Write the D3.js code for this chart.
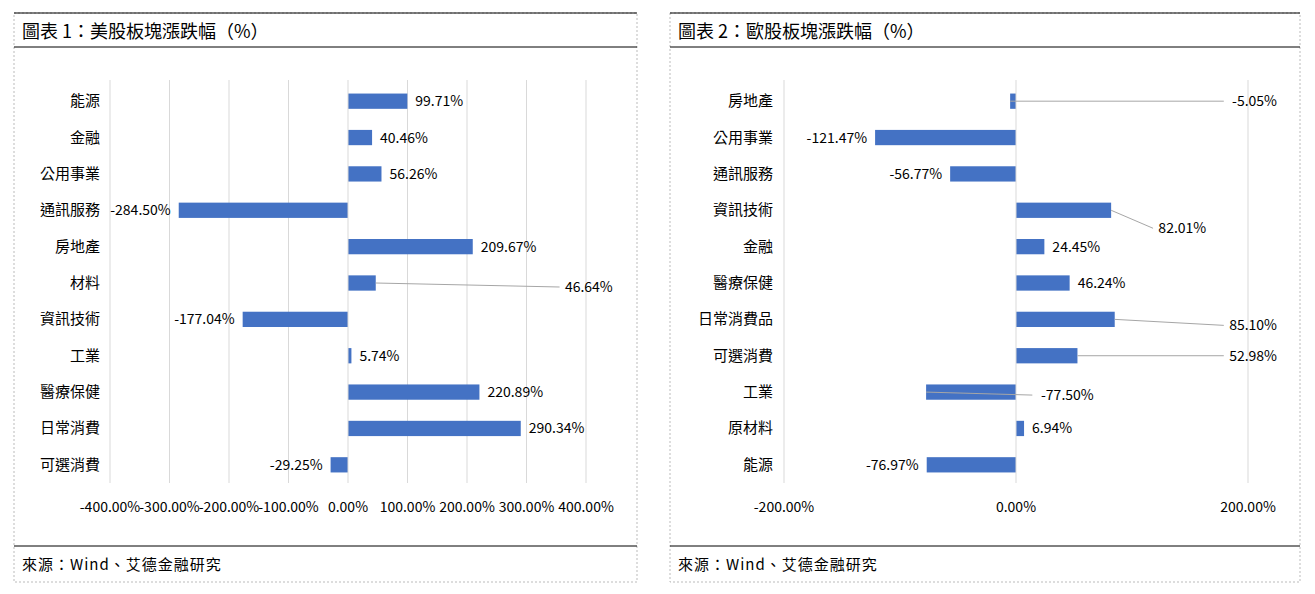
<!DOCTYPE html><html><head><meta charset="utf-8">
<script src="https://d3js.org/d3.v7.min.js"></script>
<style>body{margin:0;background:#fff}text{font-family:"Noto Sans CJK TC","DejaVu Sans Mono",sans-serif}</style></head><body>
<svg id="c" width="1315" height="594"></svg>
<script>
const usCats=["能源","金融","公用事業","通訊服務","房地產","材料","資訊技術","工業","醫療保健","日常消費","可選消費"];
const usVals=[99.71,40.46,56.26,-284.50,209.67,46.64,-177.04,5.74,220.89,290.34,-29.25];
const usTicks=[-400,-300,-200,-100,0,100,200,300,400];
// leader labels: [category, label anchor value (end), y offset px]
const usLeaders=[["材料",445,4]];
const euCats=["房地產","公用事業","通訊服務","資訊技術","金融","醫療保健","日常消費品","可選消費","工業","原材料","能源"];
const euVals=[-5.05,-121.47,-56.77,82.01,24.45,46.24,85.10,52.98,-77.50,6.94,-76.97];
const euTicks=[-200,0,200];
const euLeaders=[["房地產",225,0],["資訊技術",164,18],["日常消費品",225,6],["可選消費",225,0],["工業",67,3]];
const svg=d3.select("#c");
function panel(x0,x1,title,cats,vals,ticks,dom,leaders,grid){
  const g=svg.append("g");
  g.append("rect").attr("x",x0).attr("y",13).attr("width",x1-x0).attr("height",569).attr("fill","none").attr("stroke","#bbb").attr("stroke-dasharray","2,2");
  [13,47,546].forEach(y=>g.append("line").attr("x1",x0).attr("x2",x1).attr("y1",y).attr("y2",y).attr("stroke","#000").attr("stroke-width",1));
  g.append("text").attr("x",x0+8).attr("y",38).attr("font-size",18).text(title);
  g.append("text").attr("x",x0+8).attr("y",570).attr("font-size",15).attr("letter-spacing",1).text("來源：Wind、艾德金融研究");
  const x=d3.scaleLinear().domain(dom[0]).range(dom[1]);
  const y=d3.scaleBand().domain(cats).range([83,483]).paddingInner(0.58).paddingOuter(0.29);
  if(grid) ticks.forEach(t=>{ if(t!==0) g.append("line").attr("x1",x(t)).attr("x2",x(t)).attr("y1",80).attr("y2",483).attr("stroke","#d9d9d9");});
  g.selectAll(".b").data(vals).join("rect").attr("x",d=>Math.min(x(0),x(d))).attr("width",d=>Math.abs(x(d)-x(0)))
   .attr("y",(d,i)=>y(cats[i])).attr("height",y.bandwidth()).attr("fill","#4472c4");
  g.append("line").attr("x1",x(0)).attr("x2",x(0)).attr("y1",80).attr("y2",483).attr("stroke","#d9d9d9");
  cats.forEach(c=>g.append("text").attr("x",x.range()[0]-x0>0?0:0).attr("x",dom[2]).attr("y",y(c)+y.bandwidth()/2+5).attr("text-anchor","end").attr("font-size",15).text(c));
  const lm=new Map(leaders.map(l=>[l[0],l]));
  vals.forEach((v,i)=>{const c=cats[i];const yc=y(c)+y.bandwidth()/2;const lab=v.toFixed(2)+"%";
    if(lm.has(c)){const l=lm.get(c);const lx=x(l[1]);const tw=lab.length*8.2;
      g.append("path").attr("d",`M${x(v)},${yc}L${lx-tw-4},${yc+l[2]}`).attr("stroke","#a6a6a6").attr("fill","none");
      g.append("text").attr("x",lx).attr("y",yc+l[2]+5).attr("text-anchor","end").attr("font-size",14).text(lab);
    } else g.append("text").attr("x",x(v)+(v>=0?8:-8)).attr("y",yc+5).attr("text-anchor",v>=0?"start":"end").attr("font-size",14).text(lab);
  });
  g.selectAll(".t").data(ticks).join("text").attr("x",d=>x(d)).attr("y",512).attr("text-anchor","middle").attr("font-size",14).text(d=>d.toFixed(2)+"%");
}
panel(14,637,"圖表 1：美股板塊漲跌幅（%）",usCats,usVals,usTicks,[[-400,400],[110,586],100],usLeaders,true);
panel(670,1300,"圖表 2：歐股板塊漲跌幅（%）",euCats,euVals,euTicks,[[-200,200],[784,1248],773],euLeaders,true);
</script></body></html>
